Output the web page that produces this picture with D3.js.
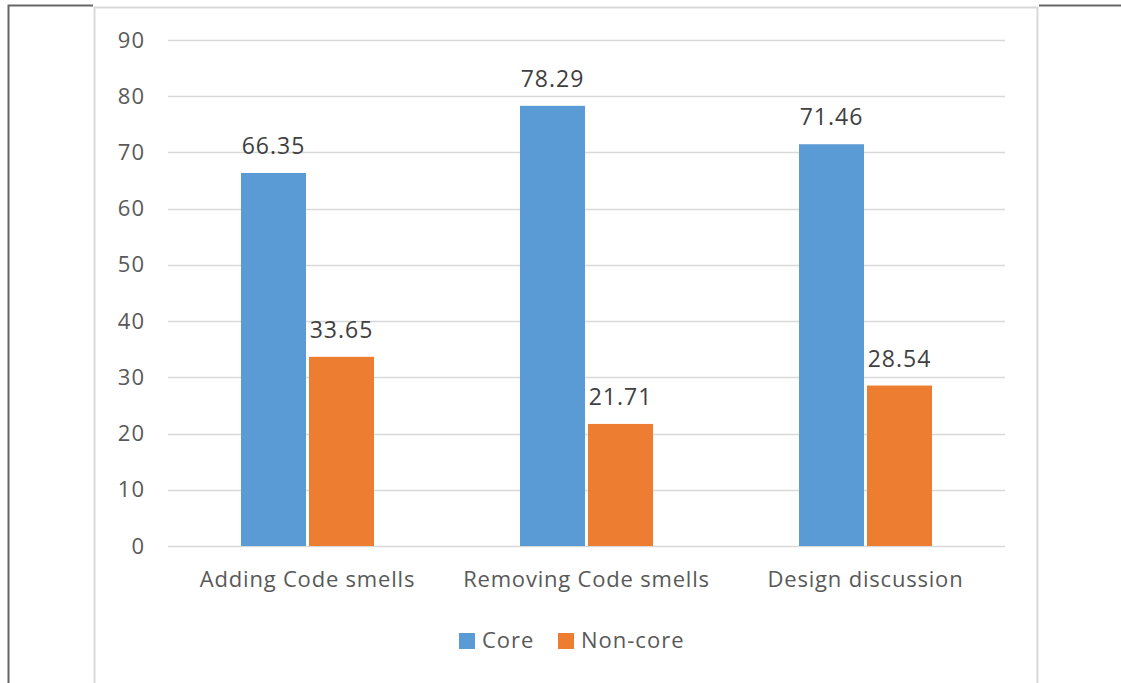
<!DOCTYPE html>
<html>
<head>
<meta charset="utf-8">
<script src="https://cdn.jsdelivr.net/npm/d3@7"></script>
<style>
  html, body { margin: 0; padding: 0; background: #fff; }
  svg { display: block; }
  text { font-family: "Open Sans", "Segoe UI", sans-serif; }
</style>
</head>
<body>
<svg id="chart" width="1121" height="683"></svg>
<script>
// Share of each activity done by core vs. non-core developers (%)
const categories = ["Adding Code smells", "Removing Code smells", "Design discussion"];
const seriesNames = ["Core", "Non-core"];
const coreValues = [66.35, 78.29, 71.46];
const nonCoreValues = [33.65, 21.71, 28.54];
const yTicks = [0, 10, 20, 30, 40, 50, 60, 70, 80, 90];
const colors = ["#5B9BD5", "#ED7D31"];

const svg = d3.select("#chart");

// page frame: dark outer edge and the light chart-area border
svg.append("path")
  .attr("d", "M8.5,683 V5.5 H93 M1039,5.5 H1121")
  .attr("fill", "none").attr("stroke", "#666").attr("stroke-width", 2);
svg.append("rect")
  .attr("x", 94.5).attr("y", 7.5).attr("width", 943).attr("height", 700)
  .attr("fill", "#fff").attr("stroke", "#d9d9d9").attr("stroke-width", 2);

const plot = { left: 168, right: 1005, top: 40, bottom: 546 };

const x0 = d3.scaleBand().domain(categories).range([plot.left, plot.right]).paddingInner(0).paddingOuter(0);
const y = d3.scaleLinear().domain([0, 90]).range([plot.bottom, plot.top]);

const barW = 65, gap = 3;
const x1 = d3.scaleOrdinal().domain(seriesNames).range([-(barW + gap / 2), gap / 2]);

// gridlines
svg.append("g")
  .selectAll("line").data(yTicks).join("line")
  .attr("x1", plot.left).attr("x2", plot.right)
  .attr("y1", d => Math.round(y(d)) + 0.5).attr("y2", d => Math.round(y(d)) + 0.5)
  .attr("stroke", "#d9d9d9").attr("stroke-width", 1.5);

// y axis labels
const yAxis = d3.axisLeft(y).tickValues(yTicks).tickSize(0).tickPadding(0).tickFormat(d3.format("d"));
const ya = svg.append("g").attr("transform", `translate(145,0)`).call(yAxis);
ya.select(".domain").remove();
ya.selectAll("text").attr("font-size", 22).attr("letter-spacing", 1).attr("fill", "#595959")
  .attr("font-family", "'Open Sans', sans-serif");

// bars
const rows = categories.map((c, i) => ({ cat: c, vals: [coreValues[i], nonCoreValues[i]] }));
const groups = svg.append("g").selectAll("g").data(rows).join("g")
  .attr("transform", d => `translate(${x0(d.cat) + x0.bandwidth() / 2},0)`);

groups.selectAll("rect").data(d => d.vals.map((v, k) => ({ v, s: seriesNames[k], k })))
  .join("rect")
  .attr("x", d => x1(d.s)).attr("width", barW)
  .attr("y", d => y(d.v)).attr("height", d => y(0) - y(d.v))
  .attr("fill", d => colors[d.k]);

groups.selectAll("text.val").data(d => d.vals.map((v, k) => ({ v, s: seriesNames[k] })))
  .join("text").attr("class", "val")
  .attr("x", d => x1(d.s) + barW / 2).attr("y", d => y(d.v) - 19)
  .attr("text-anchor", "middle").attr("font-size", 23).attr("letter-spacing", 1).attr("fill", "#404040")
  .text(d => d3.format(".2f")(d.v));

// x axis category labels
const xAxis = d3.axisBottom(x0).tickSize(0).tickPadding(0);
const xa = svg.append("g").attr("transform", `translate(0,${plot.bottom + 25})`).call(xAxis);
xa.select(".domain").remove();
xa.selectAll("text").attr("font-size", 22).attr("letter-spacing", 0.8).attr("fill", "#595959")
  .attr("font-family", "'Open Sans', sans-serif");

// legend
const legendItems = [{ name: "Core", x: 459 }, { name: "Non-core", x: 558 }];
const lg = svg.append("g").selectAll("g").data(legendItems).join("g")
  .attr("transform", d => `translate(${d.x},633)`);
lg.append("rect").attr("width", 16).attr("height", 16).attr("fill", (d, i) => colors[i]);
lg.append("text").attr("x", 23).attr("y", 15).attr("font-size", 22).attr("letter-spacing", 1)
  .attr("fill", "#595959").text(d => d.name);
</script>
</body>
</html>
